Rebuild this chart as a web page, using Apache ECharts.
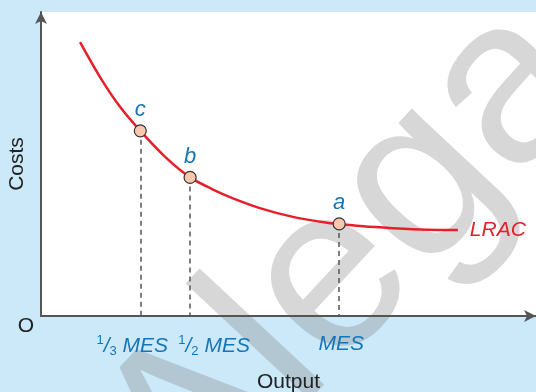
<!DOCTYPE html>
<html>
<head>
<meta charset="utf-8">
<script src="https://cdn.jsdelivr.net/npm/echarts@6/dist/echarts.min.js"></script>
<style>
html,body{margin:0;padding:0;background:#cce9f9;}
#c{width:536px;height:392px;}
</style>
</head>
<body>
<div id="c"></div>
<script>
// LRAC curve (output in % of MES, cost index)
const curveX = [13.1, 19.8, 26.5, 33.3, 41.9, 50, 57.7, 64.4, 73.4, 84.5, 95.9, 100, 108.0, 118.0, 129.4, 139.8];
const curveY = [90.1, 78.6, 68.8, 60.9, 52.1, 45.6, 41.6, 38.7, 35.5, 32.6, 30.7, 30.3, 29.5, 28.9, 28.4, 28.3];
// marked points
const pointNames = ['c', 'b', 'a'];
const pointX = [33.3, 50, 100];
const pointY = [60.9, 45.6, 30.3];
// x tick labels (rich text)
const tickLabels = ['{sup|1}{sl|/}{sub|3}{t| MES}', '{sup|1}{sl|/}{sub|2}{t| MES}', '{t|MES}'];
const tickShift = [-8, 24, 2];

const blue = '#1476b8';
const red = '#e5202b';
const FONT = '"Liberation Sans", Arial, sans-serif';

const chart = echarts.init(document.getElementById('c'));
chart.setOption({
  backgroundColor: '#cce9f9',
  animation: false,
  grid: { left: 41, right: 0, top: 12, bottom: 76, show: true, backgroundColor: '#ffffff', borderWidth: 0, outerBoundsMode: 'none', containLabel: false },
  graphic: [
    { type: 'text', z: 1, x: 350, y: 262, rotation: 47 * Math.PI / 180,
      style: { text: 'Alega', fontSize: 235, fontFamily: FONT, fill: 'rgba(110,110,110,0.28)', align: 'center', verticalAlign: 'middle' } },
    { type: 'text', z: 5, x: 26, y: 326,
      style: { text: 'O', fontSize: 21, fontFamily: FONT, fill: '#222', align: 'center', verticalAlign: 'middle' } }
  ],
  xAxis: {
    type: 'value', min: 0, max: 166, z: 5,
    name: 'Output', nameLocation: 'middle', nameGap: 56,
    nameTextStyle: { fontSize: 21, color: '#222', fontFamily: FONT },
    axisLine: { show: true, lineStyle: { color: '#555', width: 2 }, symbol: ['none', 'arrow'], symbolSize: [9, 12] },
    axisTick: { show: false },
    splitLine: { show: false },
    axisLabel: { show: false }
  },
  yAxis: {
    type: 'value', min: 0, max: 100, z: 5,
    name: 'Costs', nameLocation: 'middle', nameGap: 13,
    nameTextStyle: { fontSize: 21, color: '#222', fontFamily: FONT },
    axisLine: { show: true, lineStyle: { color: '#555', width: 2 }, symbol: ['none', 'arrow'], symbolSize: [9, 12] },
    axisTick: { show: false }, axisLabel: { show: false }, splitLine: { show: false }
  },
  series: [
    {
      type: 'line', name: 'LRAC', z: 3,
      data: curveX.map((x, i) => [x, curveY[i]]),
      smooth: 0.3, showSymbol: false,
      lineStyle: { color: red, width: 2.5 },
      endLabel: { show: true, formatter: 'LRAC', color: red, fontSize: 21, fontStyle: 'italic', fontFamily: FONT, distance: 12 }
    },
    {
      type: 'scatter', z: 4,
      data: pointX.map((x, i) => ({ value: [x, pointY[i]], name: pointNames[i] })),
      symbol: 'circle', symbolSize: 12,
      itemStyle: { color: '#f7c8ae', borderColor: '#333', borderWidth: 1.2, opacity: 1 },
      label: { show: true, position: 'top', distance: 3, formatter: '{b}', color: blue, fontSize: 22, fontStyle: 'italic', fontFamily: FONT },
      markLine: {
        silent: true, symbol: 'none', z: 2, animation: false,
        lineStyle: { color: '#555', width: 1.5, type: [5, 4] },
        label: { show: false },
        data: pointX.map((x, i) => [{ coord: [x, pointY[i]] }, { coord: [x, 0] }])
      }
    },
    {
      // tick labels under the x axis
      type: 'scatter', z: 6, silent: true, clip: false,
      data: pointX.map((x, i) => ({ value: [x, 0], name: tickLabels[i] })),
      symbol: 'circle', symbolSize: 2,
      itemStyle: { color: '#ffffff', opacity: 0.001, borderWidth: 0 },
      labelLayout: function (p) { return { dx: tickShift[p.dataIndex], hideOverlap: false }; },
      label: {
        show: true, position: 'bottom', distance: 17, formatter: '{b}', color: blue, opacity: 1,
        rich: {
          sup: { fontSize: 13, color: blue, fontFamily: FONT, padding: [0, 0, 11, 0] },
          sl: { fontSize: 21, color: blue, fontStyle: 'italic', fontFamily: FONT },
          sub: { fontSize: 13, color: blue, fontFamily: FONT, padding: [11, 0, 0, 0] },
          t: { fontSize: 21, color: blue, fontStyle: 'italic', fontFamily: FONT }
        }
      }
    }
  ]
});
</script>
</body>
</html>
